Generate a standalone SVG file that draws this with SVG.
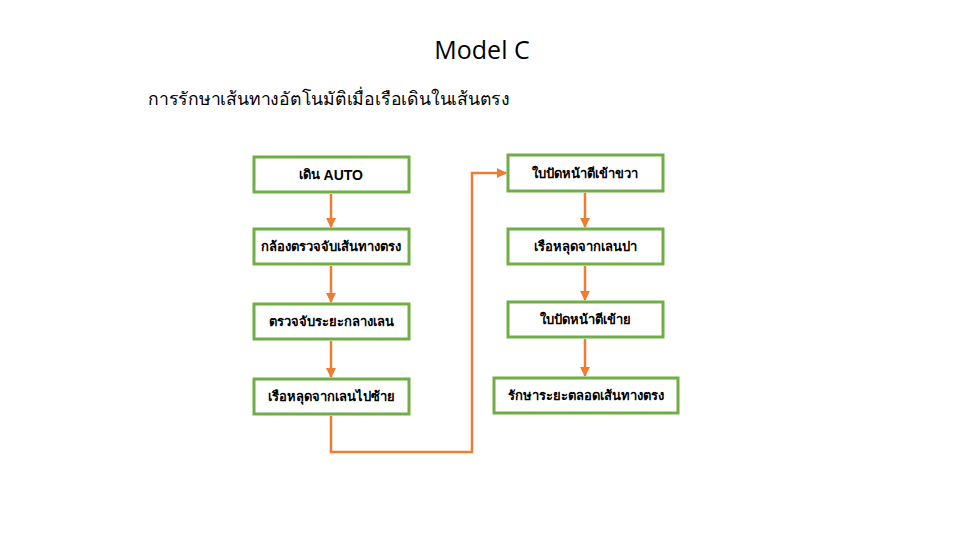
<svg xmlns="http://www.w3.org/2000/svg" width="975" height="548" viewBox="0 0 975 548">
<style>
.box{fill:#fff;stroke:#70AD47;stroke-width:3}
.lbl{font-family:"Liberation Sans","Noto Sans","DejaVu Sans",sans-serif;font-size:13px;font-weight:bold;fill:#000;text-anchor:middle;dominant-baseline:central}
.con{fill:none;stroke:#ED7D31;stroke-width:2.5}
</style>
<defs>
<marker id="ah" viewBox="0 0 10 10" refX="9" refY="5" markerWidth="4" markerHeight="4" orient="auto" markerUnits="strokeWidth">
<path d="M0,0 L10,5 L0,10 z" fill="#ED7D31"/>
</marker>
</defs>
<rect width="975" height="548" fill="#fff"/>
<text x="482" y="59" font-family="Open Sans, 'Liberation Sans', sans-serif" font-size="25" text-anchor="middle" fill="#000">Model C</text>
<text x="148" y="105" font-family="'Liberation Sans','Noto Sans',sans-serif" font-size="18" textLength="362" lengthAdjust="spacingAndGlyphs" fill="#000">การรักษาเส้นทางอัตโนมัติเมื่อเรือเดินในเส้นตรง</text>
<g id="connectors">
<path class="con" d="M331,194 V227" marker-end="url(#ah)"/>
<path class="con" d="M331,266 V302" marker-end="url(#ah)"/>
<path class="con" d="M331,341 V377" marker-end="url(#ah)"/>
<path class="con" d="M331,416 V452 H472 V173 H506" marker-end="url(#ah)"/>
<path class="con" d="M585,193 V227" marker-end="url(#ah)"/>
<path class="con" d="M585,266 V300" marker-end="url(#ah)"/>
<path class="con" d="M585,339 V376" marker-end="url(#ah)"/>
</g>
<g id="n1"><rect class="box" x="254" y="157" width="155" height="35"/><text class="lbl" x="331" y="174.5">เดิน <tspan font-size="14">AUTO</tspan></text></g>
<g id="n2"><rect class="box" x="254" y="229" width="155" height="35"/><text class="lbl" x="331" y="246.5">กล้องตรวจจับเส้นทางตรง</text></g>
<g id="n3"><rect class="box" x="254" y="304" width="155" height="35"/><text class="lbl" x="331" y="321.5">ตรวจจับระยะกลางเลน</text></g>
<g id="n4"><rect class="box" x="254" y="379" width="155" height="35"/><text class="lbl" x="331" y="396.5">เรือหลุดจากเลนไปซ้าย</text></g>
<g id="n5"><rect class="box" x="508" y="155" width="155" height="36"/><text class="lbl" x="585" y="173">ใบปัดหน้าตีเข้าขวา</text></g>
<g id="n6"><rect class="box" x="508" y="229" width="155" height="35"/><text class="lbl" x="585" y="246.5">เรือหลุดจากเลนปา</text></g>
<g id="n7"><rect class="box" x="508" y="302" width="155" height="35"/><text class="lbl" x="585" y="319.5">ใบปัดหน้าตีเข้าย</text></g>
<g id="n8"><rect class="box" x="494" y="378" width="184" height="35"/><text class="lbl" x="586" y="395.5">รักษาระยะตลอดเส้นทางตรง</text></g>
</svg>
